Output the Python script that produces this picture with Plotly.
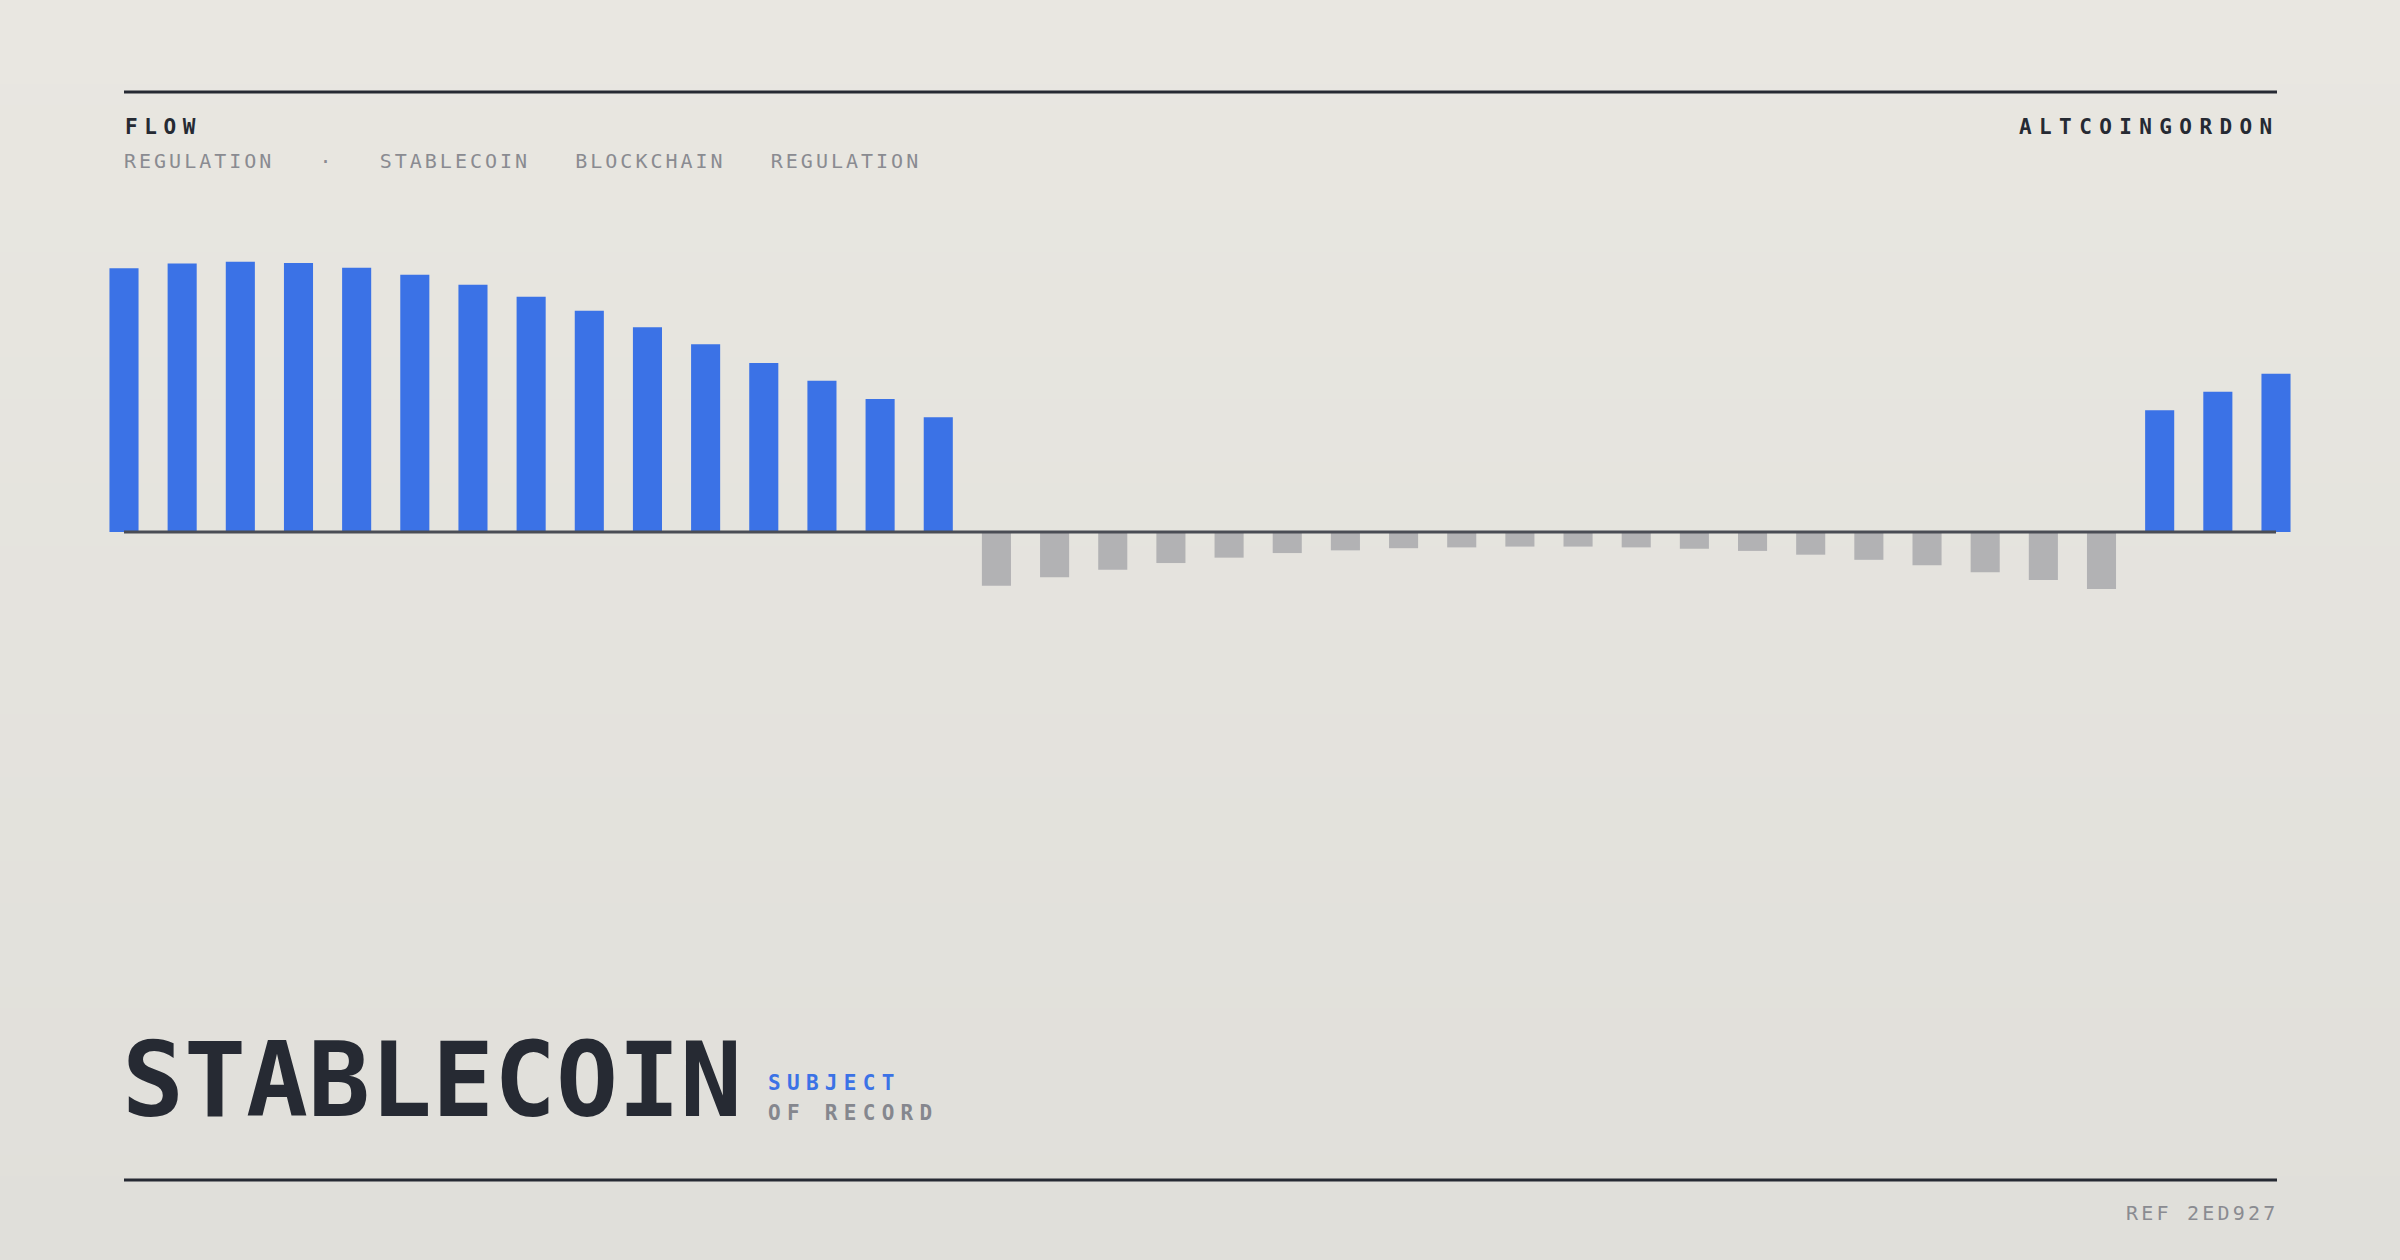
import plotly.graph_objects as go

# ---------------- data ----------------
categories = list(range(38))
lead_values = [97.7, 99.4, 100.1, 99.6, 97.9, 95.3, 91.6, 87.1, 81.9, 75.8,
               69.5, 62.6, 56.0, 49.3, 42.5]
dip_values = [-19.9, -16.8, -14.0, -11.5, -9.5, -7.8, -6.8, -6.0, -5.7, -5.4,
              -5.4, -5.7, -6.2, -7.0, -8.4, -10.3, -12.3, -14.9, -17.8, -21.1]
tail_values = [45.1, 51.9, 58.6]
values = lead_values + dip_values + tail_values

header_left = "FLOW"
header_tags = "REGULATION   ·   STABLECOIN   BLOCKCHAIN   REGULATION"
header_right = "ALTCOINGORDON"
title_text = "STABLECOIN"
title_sub1 = "SUBJECT"
title_sub2 = "OF RECORD"
footer_ref = "REF 2ED927"

# ---------------- style ----------------
W, H = 2400, 1260
BLUE = "#3b72e6"
GREY_BAR = "#b2b2b4"
INK = "#262a33"
MUTED = "#8a8b91"
MONO = "DejaVu Sans Mono, Liberation Mono, monospace"

def px_x(x):
    return x / W

def px_y(y):
    return 1 - y / H

colors = [BLUE if v >= 0 else GREY_BAR for v in values]

fig = go.Figure()
fig.add_trace(go.Bar(
    x=categories, y=values, marker=dict(color=colors, line=dict(width=0)),
    width=0.5, hoverinfo="skip", showlegend=False,
))

# background gradient
top_rgb = (233, 231, 225)
bot_rgb = (224, 223, 218)
n_bands = 60
shapes = []
for i in range(n_bands):
    t = i / (n_bands - 1)
    r = round(top_rgb[0] + (bot_rgb[0] - top_rgb[0]) * t)
    g = round(top_rgb[1] + (bot_rgb[1] - top_rgb[1]) * t)
    b = round(top_rgb[2] + (bot_rgb[2] - top_rgb[2]) * t)
    shapes.append(dict(type="rect", xref="paper", yref="paper",
                       x0=0, x1=1, y0=1 - (i + 1) / n_bands - 0.002, y1=1 - i / n_bands,
                       fillcolor=f"rgb({r},{g},{b})", line=dict(width=0), layer="below"))

# rules
for yy in (92, 1180):
    shapes.append(dict(type="line", xref="paper", yref="paper",
                       x0=px_x(124), x1=px_x(2277), y0=px_y(yy), y1=px_y(yy),
                       line=dict(color=INK, width=3), layer="above"))
# baseline
shapes.append(dict(type="line", xref="x", yref="y", x0=0, x1=37, y0=0, y1=0,
                   line=dict(color="#4a4d55", width=3), layer="above"))

def spaced(text, ls):
    return f'<span style="letter-spacing:{ls}px">{text}</span>'

annotations = [
    dict(text=spaced(header_left, 6.6), x=px_x(123), y=px_y(127), xanchor="left", yanchor="middle",
         font=dict(family=MONO, size=21, color=INK, weight="bold")),
    dict(text=spaced(header_tags, 3.0), x=px_x(122), y=px_y(160.5), xanchor="left", yanchor="middle",
         font=dict(family=MONO, size=20, color=MUTED)),
    dict(text=spaced(header_right, 7.4), x=px_x(2277), y=px_y(127), xanchor="right", yanchor="middle",
         xshift=5, font=dict(family=MONO, size=21, color=INK, weight="bold")),
    dict(text=title_text, x=px_x(120), y=px_y(1080), xanchor="left", yanchor="middle",
         font=dict(family=MONO, size=103, color=INK, weight="bold")),
    dict(text=spaced(title_sub1, 6.3), x=px_x(766), y=px_y(1083), xanchor="left", yanchor="middle",
         font=dict(family=MONO, size=21, color=BLUE, weight="bold")),
    dict(text=spaced(title_sub2, 6.3), x=px_x(766), y=px_y(1113), xanchor="left", yanchor="middle",
         font=dict(family=MONO, size=21, color="#85878e", weight="bold")),
    dict(text=spaced(footer_ref, 3.2), x=px_x(2277), y=px_y(1212.5), xanchor="right", yanchor="middle",
         xshift=3, font=dict(family=MONO, size=20, color=MUTED)),
]
for a in annotations:
    a.update(xref="paper", yref="paper", showarrow=False)

x_left = (124 - 29.08) / W
x_right = (2276 + 29.08) / W

fig.update_layout(
    width=W, height=H,
    margin=dict(l=0, r=0, t=0, b=0),
    paper_bgcolor="#e9e7e1",
    plot_bgcolor="rgba(0,0,0,0)",
    bargap=0.5,
    xaxis=dict(domain=[x_left, x_right], range=[-0.5, 37.5], visible=False, fixedrange=True),
    yaxis=dict(domain=[px_y(613), px_y(235)], range=[-30, 110], visible=False, fixedrange=True),
    shapes=shapes,
    annotations=annotations,
)

fig.write_html("out.html", config={"displayModeBar": False, "staticPlot": True},
               post_script="document.body.style.margin='0';document.body.style.overflow='hidden';")
